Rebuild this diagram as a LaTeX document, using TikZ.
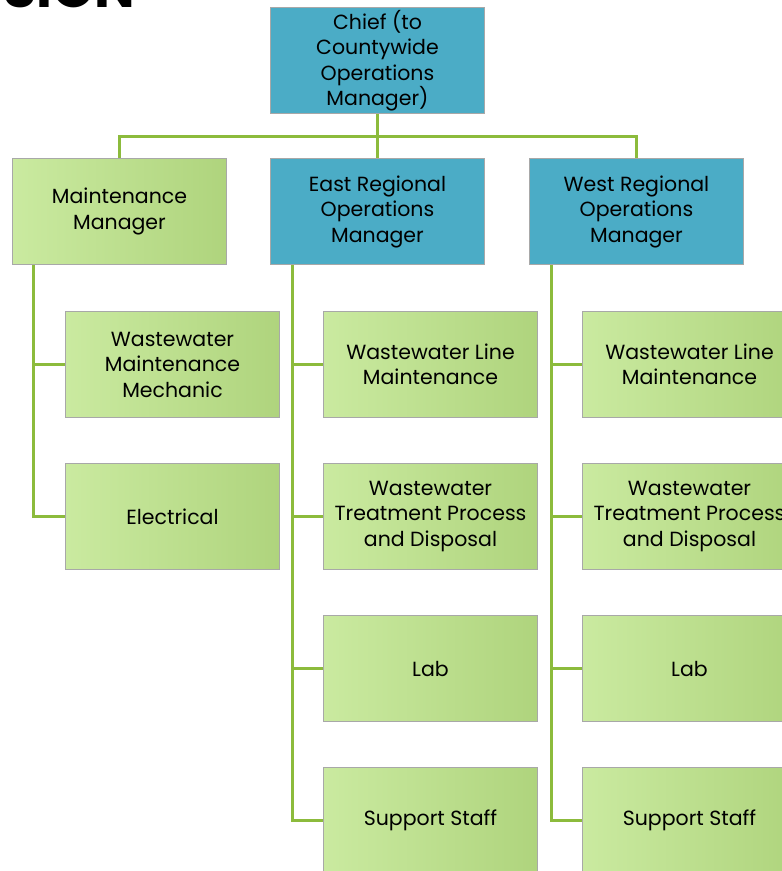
\documentclass[tikz,border=0pt]{standalone}
\usepackage{fontspec}
\setmainfont{Poppins}
\definecolor{chiefblue}{HTML}{4BACC6}
\definecolor{leafL}{HTML}{CAEAA0}
\definecolor{leafR}{HTML}{AFD47D}
\definecolor{linkgreen}{HTML}{8CBB3C}
\definecolor{boxedge}{HTML}{A8A8A8}
\begin{document}
\begin{tikzpicture}[x=1pt,y=-1pt,
  box/.style={draw=boxedge, line width=1pt, minimum width=214pt, minimum height=106pt,
    align=center, font=\fontsize{20.5}{25.5}\selectfont, inner sep=1pt, anchor=north west},
  bluebox/.style={box, fill=chiefblue},
  greenbox/.style={box, left color=leafL, right color=leafR},
  link/.style={draw=linkgreen, line width=3pt}]
\useasboundingbox (0,0) rectangle (782,871);
\clip (0,0) rectangle (782,871);

% heading, cut off at the top edge
\node[anchor=base west, inner sep=0, font=\bfseries\fontsize{54}{54}\selectfont] (title) at (3,7) {SION};

% boxes
\node[bluebox] (chief) at (270,7) {Chief (to\\Countywide\\Operations\\Manager)};
\node[greenbox] (mm) at (12,158) {Maintenance\\Manager};
\node[bluebox] (east) at (270,158) {East Regional\\Operations\\Manager};
\node[bluebox] (west) at (529,158) {West Regional\\Operations\\Manager};

\node[greenbox] (mech) at (65,311) {Wastewater\\Maintenance\\Mechanic};
\node[greenbox] (elec) at (65,463) {Electrical};

\node[greenbox] (e1) at (323,311) {Wastewater Line\\Maintenance};
\node[greenbox] (e2) at (323,463) {Wastewater\\Treatment Process\\and Disposal};
\node[greenbox] (e3) at (323,615) {Lab};
\node[greenbox] (e4) at (323,767) {Support Staff};

\node[greenbox] (w1) at (582,311) {Wastewater Line\\Maintenance};
\node[greenbox] (w2) at (582,463) {Wastewater\\Treatment Process\\and Disposal};
\node[greenbox] (w3) at (582,615) {Lab};
\node[greenbox] (w4) at (582,767) {Support Staff};

% connectors
\coordinate (bus) at (0,136);
\draw[link] (chief.south) -- (east.north);
\draw[link] (mm.north) -- (mm.north |- bus) -| (west.north);

\coordinate (mmroot) at ([xshift=21pt]mm.south west);
\coordinate (eroot) at ([xshift=22pt]east.south west);
\coordinate (wroot) at ([xshift=22pt]west.south west);
\draw[link] (mmroot) |- (mech.west);
\draw[link] (mmroot) |- (elec.west);
\foreach \n in {e1,e2,e3,e4} \draw[link] (eroot) |- (\n.west);
\foreach \n in {w1,w2,w3,w4} \draw[link] (wroot) |- (\n.west);
\end{tikzpicture}
\end{document}
